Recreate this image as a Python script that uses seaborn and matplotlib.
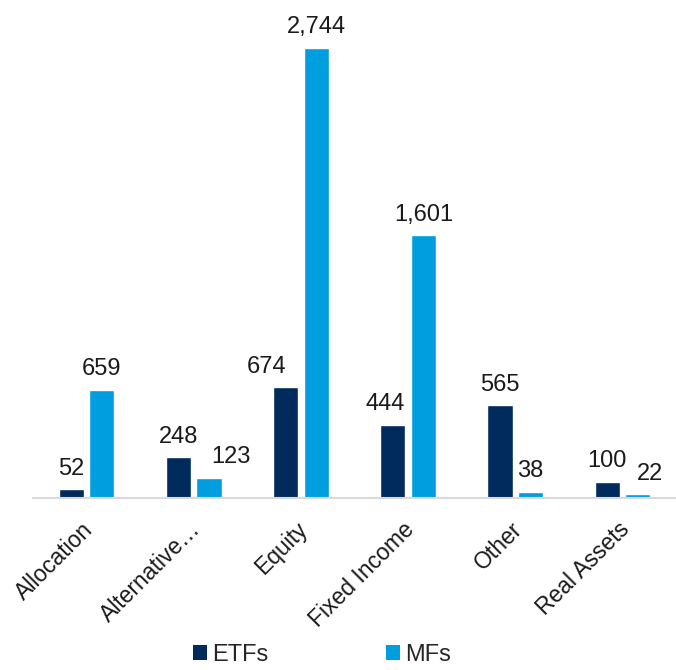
import matplotlib
matplotlib.use("Agg")
import matplotlib.pyplot as plt
import matplotlib.transforms as mtransforms
from matplotlib.patches import Patch
import seaborn as sns
import pandas as pd

categories = ["Allocation", "Alternative…", "Equity", "Fixed Income", "Other", "Real Assets"]
series_names = ["ETFs", "MFs"]
etfs = [52, 248, 674, 444, 565, 100]
mfs = [659, 123, 2744, 1601, 38, 22]
colors = ["#002B5C", "#009EDE"]

df = pd.DataFrame({
    "category": categories * 2,
    "series": [series_names[0]] * len(categories) + [series_names[1]] * len(categories),
    "value": etfs + mfs,
})

sns.set_theme(style="white")
plt.rcParams["font.family"] = ["Liberation Sans", "DejaVu Sans"]

fig = plt.figure(figsize=(6.76, 6.70), dpi=100)
ax = fig.add_axes([33 / 676, (670 - 498) / 670, 1 - 33 / 676, 498 / 670])

sns.barplot(data=df, x="category", y="value", hue="series", palette=colors,
            width=0.57, gap=0.18, ax=ax, legend=False, saturation=1)

ax.set_ylim(0, 3037)
ax.set_xlim(-0.5, len(categories) - 0.5)
ax.set_xlabel("")
ax.set_ylabel("")
ax.set_yticks([])
for s in ["top", "right", "left"]:
    ax.spines[s].set_visible(False)
ax.spines["bottom"].set_color("#D9D9D9")
ax.spines["bottom"].set_linewidth(1.5)
ax.tick_params(axis="x", length=0, pad=0)

# horizontal nudges (px) of some value labels, as in the original layout
label_nudges = [[0, 0, -19, -8, 0, 0], [0, 22, 0, 0, 0, 12]]
pad = 7
for cont, nudges in zip(ax.containers, label_nudges):
    anns = ax.bar_label(cont, labels=[f"{v:,.0f}" for v in cont.datavalues],
                        padding=pad, fontsize=17, color="#1A1A1A")
    for ann, dx in zip(anns, nudges):
        ann.xyann = (dx * 0.72, pad)

shift = mtransforms.ScaledTranslation(-5 / 100, -20 / 100, fig.dpi_scale_trans)
for lab in ax.get_xticklabels():
    lab.set_rotation(45)
    lab.set_rotation_mode("anchor")
    lab.set_ha("right")
    lab.set_va("top")
    lab.set_fontsize(16.5)
    lab.set_color("#1A1A1A")
    lab.set_transform(lab.get_transform() + shift)

handles = [Patch(facecolor=c, edgecolor="none") for c in colors]
fig.legend(handles, series_names, loc="lower center", bbox_to_anchor=(0.476, -0.026),
           ncol=2, frameon=False, fontsize=17, handlelength=0.6, handleheight=0.6,
           handletextpad=0.2, columnspacing=5.0)

fig.savefig("out.png", dpi=100)
